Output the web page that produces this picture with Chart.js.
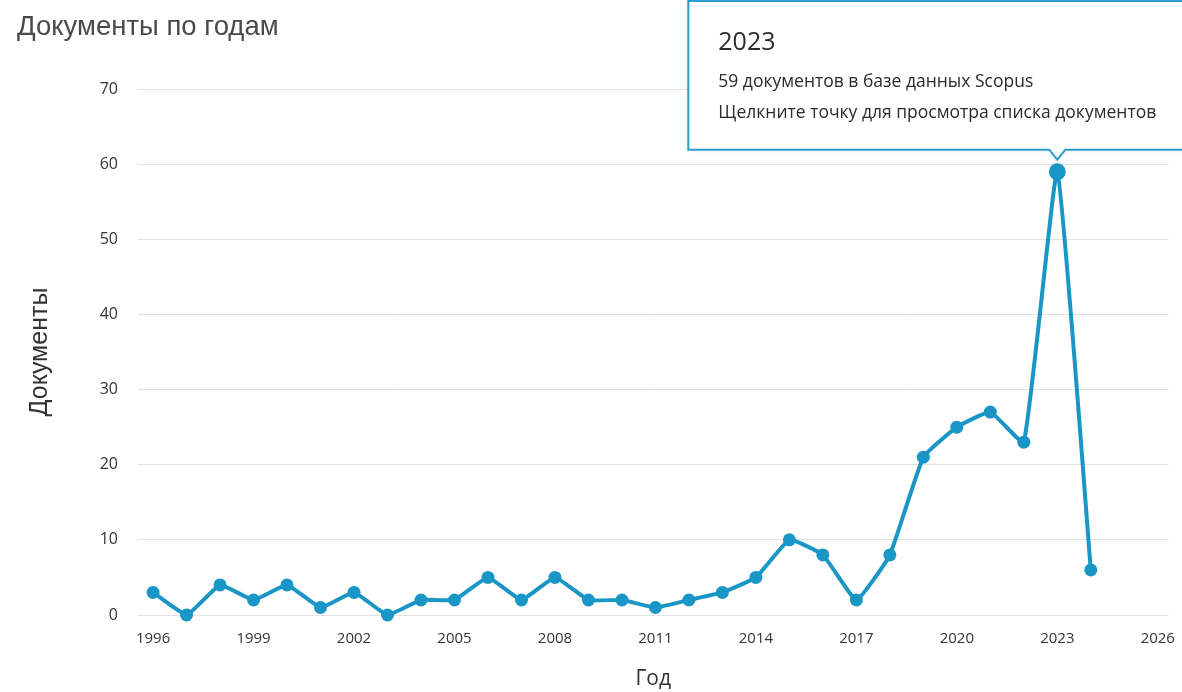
<!DOCTYPE html>
<html>
<head>
<meta charset="utf-8">
<script src="https://cdn.jsdelivr.net/npm/chart.js@4/dist/chart.umd.min.js"></script>
<style>
  html, body { margin: 0; padding: 0; background: #fff; }
  #chart { display: block; }
</style>
</head>
<body>
<canvas id="chart" width="1182" height="692"></canvas>
<script>
const years = [1996, 1997, 1998, 1999, 2000, 2001, 2002, 2003, 2004, 2005,
  2006, 2007, 2008, 2009, 2010, 2011, 2012, 2013, 2014, 2015,
  2016, 2017, 2018, 2019, 2020, 2021, 2022, 2023, 2024];
const documents = [3, 0, 4, 2, 4, 1, 3, 0, 2, 2,
  5, 2, 5, 2, 2, 1, 2, 3, 5, 10,
  8, 2, 8, 21, 25, 27, 23, 59, 6];
const xTicks = [1996, 1999, 2002, 2005, 2008, 2011, 2014, 2017, 2020, 2023, 2026];
const yTicks = [0, 10, 20, 30, 40, 50, 60, 70];

const highlightYear = 2023;
const tooltipTitle = "2023";
const tooltipLines = [
  "59 документов в базе данных Scopus",
  "Щелкните точку для просмотра списка документов",
];

const LINE_COLOR = "#1a96c6";
const TICK_FONT = "'Open Sans', sans-serif";
const highlightIndex = years.indexOf(highlightYear);

const tooltipBox = {
  id: "tooltipBox",
  afterDraw(chart) {
    const pt = chart.getDatasetMeta(0).data[highlightIndex];
    if (!pt) return;
    const ctx = chart.ctx;
    const left = pt.x - 369;
    const bottom = pt.y - 22;
    const top = 1;
    const right = left + 520;
    ctx.save();
    ctx.shadowColor = "rgba(0,0,0,0.12)";
    ctx.shadowBlur = 4;
    ctx.beginPath();
    ctx.moveTo(left, top);
    ctx.lineTo(right, top);
    ctx.lineTo(right, bottom);
    ctx.lineTo(pt.x + 8, bottom);
    ctx.lineTo(pt.x, bottom + 10);
    ctx.lineTo(pt.x - 8, bottom);
    ctx.lineTo(left, bottom);
    ctx.closePath();
    ctx.fillStyle = "#fff";
    ctx.fill();
    ctx.shadowColor = "transparent";
    ctx.lineWidth = 2;
    ctx.strokeStyle = "#2a9dcc";
    ctx.stroke();

    ctx.fillStyle = "#2b2b2b";
    ctx.textBaseline = "middle";
    ctx.textAlign = "left";
    ctx.font = "25px " + TICK_FONT;
    ctx.fillText(tooltipTitle, left + 30, 43);
    ctx.font = "17.5px " + TICK_FONT;
    ctx.fillText(tooltipLines[0], left + 30, 82);
    ctx.fillText(tooltipLines[1], left + 30, 113);
    ctx.restore();
  },
};

new Chart(document.getElementById("chart"), {
  type: "line",
  data: {
    datasets: [
      {
        data: years.map((y, i) => ({ x: y, y: documents[i] })),
        borderColor: LINE_COLOR,
        backgroundColor: LINE_COLOR,
        pointBackgroundColor: LINE_COLOR,
        pointBorderWidth: 0,
        pointRadius: (c) => (c.dataIndex === highlightIndex ? 8.5 : 6.5),
        borderWidth: 4,
        tension: 0.12,
        clip: false,
      },
    ],
  },
  options: {
    responsive: false,
    animation: false,
    events: [],
    layout: { padding: { left: 17, right: 1, top: 0, bottom: 0 } },
    plugins: {
      legend: { display: false },
      tooltip: { enabled: false },
      title: {
        display: true,
        text: "Документы по годам",
        align: "start",
        color: "#4a4a4a",
        font: { family: "'Liberation Sans', Arial, sans-serif", size: 27.5, weight: "normal" },
        padding: { top: 11, bottom: 45 },
      },
    },
    scales: {
      x: {
        type: "linear",
        min: 1995.55,
        max: 2026.32,
        afterBuildTicks: (scale) => {
          scale.ticks = xTicks.map((v) => ({ value: v }));
        },
        afterFit: (scale) => {
          scale.height = 77;
        },
        grid: { display: false },
        border: { display: false },
        ticks: {
          color: "#333",
          font: { family: TICK_FONT, size: 15 },
          padding: 7,
          maxRotation: 0,
          autoSkip: false,
          callback: (v) => String(v),
        },
        title: {
          display: true,
          text: "Год",
          color: "#333",
          font: { family: TICK_FONT, size: 21 },
          padding: { top: 0, bottom: 0 },
        },
      },
      y: {
        min: 0,
        max: 70,
        afterBuildTicks: (scale) => {
          scale.ticks = yTicks.map((v) => ({ value: v }));
        },
        afterFit: (scale) => {
          scale.width = 121;
        },
        grid: { color: "#e2e2e2", drawTicks: false, lineWidth: 1 },
        border: { display: false },
        ticks: {
          color: "#333",
          font: { family: TICK_FONT, size: 16 },
          padding: 20,
        },
        title: {
          display: true,
          text: "Документы",
          color: "#333",
          font: { family: "'Liberation Sans', Arial, sans-serif", size: 25 },
          padding: { top: 8, bottom: 0 },
        },
      },
    },
  },
  plugins: [tooltipBox],
});
</script>
</body>
</html>
